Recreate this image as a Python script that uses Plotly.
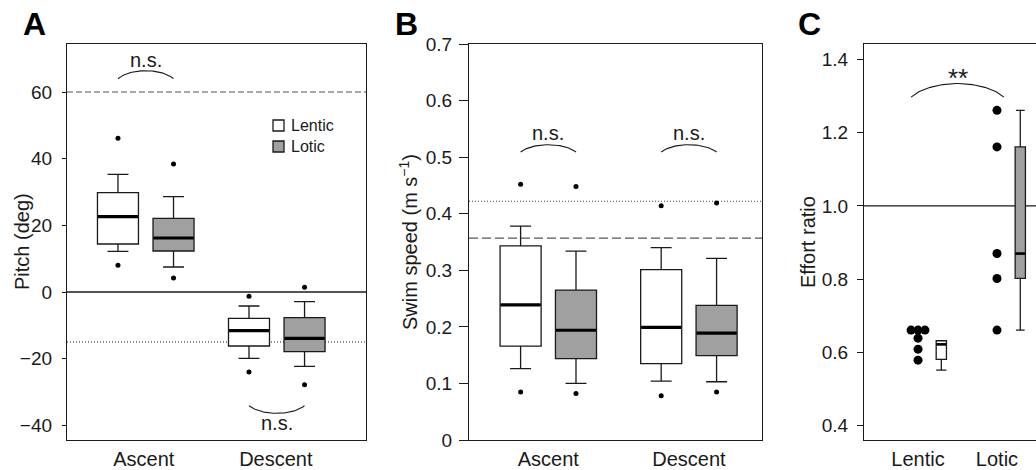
import numpy as np
import plotly.graph_objects as go

W, H = 1036, 470

# ---------------- data ----------------
groups = ["Ascent", "Descent"]
habitats = ["Lentic", "Lotic"]

# Panel A: pitch (deg); index 0 = Ascent, 1 = Descent
pitch_lentic_low = [12.2, -19.9]
pitch_lentic_q1 = [14.4, -16.2]
pitch_lentic_median = [22.6, -11.6]
pitch_lentic_q3 = [29.8, -7.9]
pitch_lentic_high = [35.3, -4.2]
pitch_lentic_outliers = [[8.0, 46.1], [-24.0, -1.3]]
pitch_lotic_low = [7.5, -22.3]
pitch_lotic_q1 = [12.3, -17.9]
pitch_lotic_median = [16.2, -13.9]
pitch_lotic_q3 = [22.1, -7.7]
pitch_lotic_high = [28.6, -2.9]
pitch_lotic_outliers = [[4.2, 38.4], [-27.8, 1.4]]
pitch_dashed = 60
pitch_solid = 0
pitch_dotted = -15
pitch_sig_text = ["n.s.", "n.s."]
pitch_sig_end = [64.0, -34.1]
pitch_sig_peak = [66.4, -36.4]
pitch_sig_label = [69.6, -39.4]

# Panel B: swim speed (m s-1)
speed_lentic_low = [0.126, 0.104]
speed_lentic_q1 = [0.166, 0.135]
speed_lentic_median = [0.239, 0.199]
speed_lentic_q3 = [0.343, 0.301]
speed_lentic_high = [0.378, 0.340]
speed_lentic_outliers = [[0.085, 0.452], [0.078, 0.414]]
speed_lotic_low = [0.100, 0.103]
speed_lotic_q1 = [0.144, 0.149]
speed_lotic_median = [0.194, 0.189]
speed_lotic_q3 = [0.265, 0.238]
speed_lotic_high = [0.334, 0.321]
speed_lotic_outliers = [[0.082, 0.448], [0.085, 0.419]]
speed_dotted = 0.422
speed_dashed = 0.357
speed_sig_text = ["n.s.", "n.s."]
speed_sig_end = [0.509, 0.509]
speed_sig_peak = [0.522, 0.522]
speed_sig_label = [0.543, 0.543]

# Panel C: effort ratio
effort_groups = ["Lentic", "Lotic"]
effort_lentic_points = [0.661, 0.661, 0.661, 0.639, 0.609, 0.579]
effort_lotic_points = [1.261, 1.161, 0.870, 0.802, 0.661]
effort_low = [0.552, 0.661]
effort_q1 = [0.581, 0.802]
effort_median = [0.622, 0.870]
effort_q3 = [0.632, 1.161]
effort_high = [0.632, 1.261]
effort_solid = 1.0
effort_sig_text = "**"
effort_sig_end = 1.297
effort_sig_peak = 1.334
effort_sig_label = 1.348

# ---------------- style ----------------
FONT = "Liberation Sans, Arial, Helvetica, sans-serif"
INK = "#1a1a1a"
GREY = "#a0a0a0"
FILLS = {"Lentic": "white", "Lotic": GREY}
LW = 1.3

fig = go.Figure()


def arc(x0, x1, y_end, y_peak, n=50):
    t0 = 1.05
    t = np.linspace(-t0, t0, n)
    xs = (x0 + x1) / 2 + (x1 - x0) / 2 * np.sin(t) / np.sin(t0)
    ys = y_end + (y_peak - y_end) * (np.cos(t) - np.cos(t0)) / (1 - np.cos(t0))
    return xs, ys


def add_box(xa, ya, pos, w, low, q1, med, q3, high, fill, name,
            whisker=0.51, medw=3.2):
    fig.add_trace(go.Box(
        x=[pos], q1=[q1], median=[med], q3=[q3], lowerfence=[low], upperfence=[high],
        width=w, fillcolor=fill, line=dict(color=INK, width=LW), whiskerwidth=whisker,
        boxpoints=False, name=name, showlegend=False,
        xaxis=xa, yaxis=ya, hoverinfo="skip"))
    fig.add_trace(go.Scatter(
        x=[pos - w / 2 + 0.004, pos + w / 2 - 0.004], y=[med, med], mode="lines",
        line=dict(color="black", width=medw), showlegend=False,
        xaxis=xa, yaxis=ya, hoverinfo="skip"))


def add_points(xa, ya, xs, ys, size):
    fig.add_trace(go.Scatter(
        x=xs, y=ys, mode="markers", marker=dict(color="black", size=size),
        showlegend=False, xaxis=xa, yaxis=ya, hoverinfo="skip", cliponaxis=False))


def add_arc(xa, ya, x0, x1, y_end, y_peak):
    xs, ys = arc(x0, x1, y_end, y_peak)
    fig.add_trace(go.Scatter(
        x=xs, y=ys, mode="lines", line=dict(color=INK, width=1.1),
        showlegend=False, xaxis=xa, yaxis=ya, hoverinfo="skip"))


def hline(xref, yref, y, dash, color=INK, width=1.2):
    fig.add_shape(type="line", xref=f"{xref} domain", yref=yref, x0=0, x1=1, y0=y, y1=y,
                  line=dict(color=color, width=width, dash=dash), layer="below")


# ---- Panel A ----
offA, wA = 0.212, 0.313
lentic_A = [pitch_lentic_low, pitch_lentic_q1, pitch_lentic_median, pitch_lentic_q3,
            pitch_lentic_high, pitch_lentic_outliers]
lotic_A = [pitch_lotic_low, pitch_lotic_q1, pitch_lotic_median, pitch_lotic_q3,
           pitch_lotic_high, pitch_lotic_outliers]
hline("x", "y", pitch_dashed, "6px,3px", color="#555555")
hline("x", "y", pitch_solid, "solid", width=1.3)
hline("x", "y", pitch_dotted, "1px,2px")
for gi, g in enumerate(groups):
    c = gi + 1
    for hab, stats, sign in (("Lentic", lentic_A, -1), ("Lotic", lotic_A, 1)):
        pos = c + sign * offA
        add_box("x", "y", pos, wA, stats[0][gi], stats[1][gi], stats[2][gi], stats[3][gi],
                stats[4][gi], FILLS[hab], hab)
        add_points("x", "y", [pos] * len(stats[5][gi]), stats[5][gi], 5)
    add_arc("x", "y", c - offA, c + offA, pitch_sig_end[gi], pitch_sig_peak[gi])
    fig.add_annotation(x=c, y=pitch_sig_label[gi], xref="x", yref="y", text=pitch_sig_text[gi],
                       showarrow=False, font=dict(size=20, color=INK, family=FONT))

# legend (panel A, top right)
for i, hab in enumerate(habitats):
    top = 120 + 21 * i
    fig.add_shape(type="rect", xref="paper", yref="paper",
                  x0=273 / W, x1=284 / W, y0=1 - (top + 11) / H, y1=1 - top / H,
                  fillcolor=FILLS[hab], line=dict(color=INK, width=LW))
    fig.add_annotation(x=289 / W, y=1 - (top + 5.5) / H, xref="paper", yref="paper",
                       text=hab, showarrow=False, xanchor="left", yanchor="middle",
                       font=dict(size=16, color=INK, family=FONT))

# ---- Panel B ----
offB, wB = 0.197, 0.292
lentic_B = [speed_lentic_low, speed_lentic_q1, speed_lentic_median, speed_lentic_q3,
            speed_lentic_high, speed_lentic_outliers]
lotic_B = [speed_lotic_low, speed_lotic_q1, speed_lotic_median, speed_lotic_q3,
           speed_lotic_high, speed_lotic_outliers]
hline("x2", "y2", speed_dotted, "1px,2px", color="#444444")
hline("x2", "y2", speed_dashed, "9px,4px", color="#555555")
for gi, g in enumerate(groups):
    c = gi + 1
    for hab, stats, sign in (("Lentic", lentic_B, -1), ("Lotic", lotic_B, 1)):
        pos = c + sign * offB
        add_box("x2", "y2", pos, wB, stats[0][gi], stats[1][gi], stats[2][gi], stats[3][gi],
                stats[4][gi], FILLS[hab], hab)
        add_points("x2", "y2", [pos] * len(stats[5][gi]), stats[5][gi], 5)
    add_arc("x2", "y2", c - offB, c + offB, speed_sig_end[gi], speed_sig_peak[gi])
    fig.add_annotation(x=c, y=speed_sig_label[gi], xref="x2", yref="y2", text=speed_sig_text[gi],
                       showarrow=False, font=dict(size=20, color=INK, family=FONT))

# ---- Panel C ----
offC, wC, spread = 0.295, 0.13, 0.088
hline("x3", "y3", effort_solid, "solid", width=1.3)
for gi, pts in enumerate([effort_lentic_points, effort_lotic_points]):
    c = gi + 1
    xs = []
    vals = []
    for v in sorted(set(pts), reverse=True):
        n = pts.count(v)
        for k in range(n):
            xs.append(c + (k - (n - 1) / 2) * spread)
            vals.append(v)
    add_points("x3", "y3", xs, vals, 9)
    add_box("x3", "y3", c + offC, wC, effort_low[gi], effort_q1[gi], effort_median[gi],
            effort_q3[gi], effort_high[gi], FILLS[effort_groups[gi]], effort_groups[gi],
            whisker=1.0 if gi == 0 else 0.85, medw=2.6)
add_arc("x3", "y3", 1 - spread, 2 + spread, effort_sig_end, effort_sig_peak)
fig.add_annotation(x=1.5, y=effort_sig_label, xref="x3", yref="y3", text=effort_sig_text,
                   showarrow=False, font=dict(size=26, color=INK, family=FONT))

# ---------------- layout ----------------
yd = [30 / H, 426 / H]


def xax(dom, rng, ticktext, tickvals=(1, 2), mirror=True):
    return dict(domain=dom, range=rng, tickvals=list(tickvals), ticktext=ticktext, ticks="",
                ticklen=0, showline=True, linecolor=INK, linewidth=LW, mirror=mirror,
                showgrid=False, zeroline=False, tickfont=dict(size=20, color=INK, family=FONT),
                ticklabelstandoff=1, fixedrange=True, automargin=False)


def yax(anchor, rng, dtick, ticklen, standoff, fmt="", mirror=True):
    return dict(domain=yd, range=rng, dtick=dtick, tick0=0, ticks="outside", ticklen=ticklen,
                tickwidth=LW, tickcolor=INK, showline=True, linecolor=INK, linewidth=LW,
                mirror=mirror, showgrid=False, zeroline=False, anchor=anchor,
                tickfont=dict(size=19, color=INK, family=FONT), ticklabelstandoff=standoff,
                tickformat=fmt, fixedrange=True, automargin=False)


fig.update_layout(
    width=W, height=H, margin=dict(l=0, r=0, t=0, b=0, autoexpand=False),
    paper_bgcolor="white", plot_bgcolor="white", boxmode="overlay",
    font=dict(family=FONT, color=INK), showlegend=False,
    xaxis=xax([67 / W, 366 / W], [0.399, 2.681], groups, tickvals=(0.985, 1.993)),
    yaxis=yax("x", [-44.4, 74.4], 20, 4, 6),
    xaxis2=xax([469 / W, 762 / W], [0.436, 2.52], groups) | dict(anchor="y2"),
    yaxis2=yax("x2", [0, 0.7], 0.1, 9, 3),
    xaxis3=xax([864 / W, 1.0], [0.316, 2.494], effort_groups) | dict(anchor="y3"),
    yaxis3=yax("x3", [0.361, 1.442], 0.2, 6, 5, fmt=".1f", mirror=False),
)
fig.layout.xaxis.anchor = "y"

ymid = 1 - 242 / H
for xp, txt in ((22, "Pitch (deg)"), (409, "Swim speed (m s<sup>−1</sup>)"), (808, "Effort ratio")):
    fig.add_annotation(x=xp / W, y=ymid, xref="paper", yref="paper", text=txt, textangle=-90,
                       showarrow=False, xanchor="center", yanchor="middle",
                       font=dict(size=20, color=INK, family=FONT))
for xp, txt in ((21, "A"), (393, "B"), (796, "C")):
    fig.add_annotation(x=xp / W, y=1 - 24 / H, xref="paper", yref="paper", text=f"<b>{txt}</b>",
                       showarrow=False, xanchor="left", yanchor="middle",
                       font=dict(size=32, color="black", family=FONT))

fig.write_html(
    "out.html",
    config={"displayModeBar": False, "responsive": False},
    post_script="document.body.style.margin='0';document.body.style.overflow='hidden';",
)
